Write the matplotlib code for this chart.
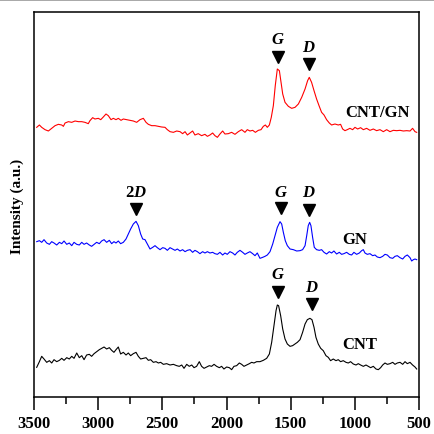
import numpy as np
import matplotlib
matplotlib.use("Agg")
import matplotlib.pyplot as plt
from matplotlib.lines import Line2D
from matplotlib.ticker import MultipleLocator

plt.rcParams["font.family"] = ["Liberation Serif", "DejaVu Serif"]
plt.rcParams["mathtext.fontset"] = "custom"
plt.rcParams["mathtext.rm"] = "Liberation Serif:bold"
plt.rcParams["mathtext.it"] = "Liberation Serif:bold:italic"

# Raman shift (cm-1) and intensity (a.u., offset stacked)
w_cntgn = [3479, 3458, 3440, 3414, 3388, 3362, 3336, 3310, 3284, 3271, 3258, 3232, 3206, 3180,
           3154, 3128, 3103, 3077, 3064, 3043, 3025, 2999, 2980, 2960, 2939, 2921, 2900, 2882,
           2861, 2843, 2822, 2804, 2778, 2752, 2726, 2700, 2674, 2648, 2627, 2609, 2583, 2557,
           2531, 2505, 2479, 2461, 2440, 2414, 2388, 2362, 2342, 2323, 2305, 2284, 2264, 2246,
           2220, 2194, 2168, 2149, 2129, 2108, 2090, 2071, 2051, 2030, 2012, 1986, 1960, 1934,
           1908, 1882, 1856, 1838, 1817, 1796, 1775, 1752, 1731, 1713, 1697, 1682, 1666, 1651,
           1635, 1620, 1604, 1588, 1575, 1562, 1544, 1518, 1492, 1466, 1440, 1414, 1388, 1368,
           1355, 1337, 1318, 1298, 1279, 1259, 1240, 1220, 1199, 1181, 1155, 1129, 1111, 1095,
           1077, 1059, 1038, 1017, 999, 978, 955, 934, 908, 882, 856, 830, 804, 778, 752, 726,
           700, 674, 648, 622, 596, 570, 550, 531, 518]
i_cntgn = [809, 816, 809, 802, 798, 806, 814, 818, 816, 812, 822, 826, 824, 828,
           826, 826, 824, 820, 829, 838, 834, 836, 832, 840, 849, 844, 832, 836,
           832, 836, 830, 834, 832, 830, 828, 824, 832, 836, 824, 818, 814, 814,
           812, 810, 809, 802, 796, 794, 798, 796, 790, 796, 786, 792, 798, 786,
           790, 784, 788, 782, 786, 792, 784, 779, 789, 798, 789, 790, 794, 788,
           796, 802, 794, 802, 798, 800, 794, 800, 802, 812, 816, 809, 816, 839,
           874, 934, 984, 979, 944, 909, 884, 872, 866, 869, 879, 899, 924, 949,
           959, 944, 919, 894, 874, 854, 846, 832, 822, 816, 819, 816, 818, 804,
           799, 802, 806, 802, 809, 804, 808, 802, 806, 800, 804, 799, 802, 796, 802, 796,
           800, 799, 800, 798, 799, 798, 806, 796, 794]

w_gn = [3479, 3458, 3440, 3422, 3401, 3380, 3362, 3344, 3323, 3302, 3284, 3266, 3245, 3225,
        3206, 3188, 3167, 3147, 3128, 3110, 3090, 3069, 3051, 3032, 3012, 2991, 2973, 2954,
        2934, 2913, 2895, 2877, 2861, 2843, 2825, 2804, 2783, 2765, 2747, 2726, 2705, 2687,
        2669, 2653, 2635, 2617, 2596, 2575, 2557, 2539, 2518, 2497, 2479, 2461, 2440, 2420,
        2401, 2383, 2362, 2342, 2323, 2305, 2284, 2264, 2246, 2227, 2207, 2186, 2168, 2149,
        2129, 2108, 2090, 2071, 2051, 2030, 2012, 1994, 1973, 1952, 1934, 1916, 1895, 1874,
        1856, 1838, 1817, 1796, 1778, 1760, 1739, 1718, 1700, 1682, 1661, 1640, 1622, 1604,
        1583, 1570, 1557, 1542, 1526, 1505, 1479, 1453, 1427, 1407, 1388, 1375, 1363, 1352,
        1342, 1329, 1316, 1298, 1277, 1259, 1240, 1220, 1199, 1181, 1163, 1142, 1121, 1103,
        1085, 1064, 1043, 1025, 1007, 986, 965, 947, 934, 921, 903, 882, 861, 843, 825, 804,
        783, 765, 747, 726, 705, 687, 669, 648, 627, 609, 591, 570, 557, 544, 531, 518]
i_gn = [466, 469, 464, 472, 462, 458, 466, 462, 456, 464, 460, 468, 458, 462,
        454, 464, 458, 456, 464, 458, 462, 456, 452, 458, 464, 460, 468, 472,
        464, 470, 460, 466, 462, 468, 460, 464, 474, 489, 504, 519, 527, 514,
        489, 474, 472, 459, 444, 449, 454, 448, 442, 448, 446, 440, 448, 444,
        440, 444, 438, 442, 436, 440, 442, 434, 440, 436, 430, 436, 432, 436,
        432, 434, 430, 428, 434, 426, 432, 428, 436, 432, 426, 434, 440, 434,
        428, 432, 436, 430, 424, 432, 416, 419, 422, 426, 436, 459, 484, 509,
        526, 519, 494, 469, 454, 444, 442, 438, 439, 442, 454, 484, 514, 524,
        514, 479, 449, 442, 440, 442, 434, 429, 436, 432, 438, 429, 434, 428,
        430, 434, 428, 426, 434, 428, 432, 439, 442, 432, 428, 430, 424, 426, 420, 418,
        422, 428, 426, 418, 416, 422, 424, 418, 414, 422, 426, 418, 408, 412, 414, 412]

w_cnt = [3479, 3458, 3440, 3422, 3401, 3380, 3362, 3344, 3323, 3302, 3284, 3266, 3245, 3225,
         3206, 3188, 3167, 3147, 3128, 3110, 3090, 3069, 3051, 3032, 3012, 2991, 2973, 2954,
         2934, 2913, 2895, 2877, 2861, 2843, 2825, 2804, 2783, 2765, 2747, 2726, 2705, 2687,
         2669, 2648, 2627, 2609, 2591, 2570, 2549, 2531, 2513, 2492, 2466, 2440, 2414, 2388,
         2368, 2349, 2331, 2310, 2290, 2271, 2253, 2233, 2212, 2194, 2175, 2155, 2134, 2116,
         2097, 2077, 2056, 2038, 2020, 1999, 1978, 1960, 1942, 1921, 1900, 1882, 1864, 1843,
         1822, 1804, 1786, 1765, 1739, 1713, 1687, 1666, 1648, 1630, 1614, 1604, 1594, 1578,
         1562, 1544, 1526, 1505, 1485, 1466, 1448, 1427, 1407, 1388, 1370, 1350, 1334, 1318,
         1303, 1285, 1266, 1246, 1225, 1207, 1189, 1168, 1147, 1129, 1111, 1090, 1069, 1051,
         1033, 1012, 991, 973, 955, 934, 913, 895, 877, 856, 835, 817, 799, 783, 765, 747,
         726, 705, 687, 669, 648, 627, 609, 591, 570, 550, 531, 518]
i_cnt = [89, 106, 122, 114, 104, 109, 102, 112, 106, 110, 116, 110, 118, 114,
         122, 116, 132, 118, 124, 112, 126, 128, 122, 130, 136, 142, 146, 150,
         144, 148, 140, 134, 142, 150, 129, 134, 126, 132, 124, 130, 134, 122,
         114, 116, 118, 110, 112, 104, 106, 102, 104, 98, 100, 96, 98, 94,
         92, 96, 86, 98, 92, 96, 88, 92, 106, 92, 86, 90, 94, 92,
         98, 92, 88, 92, 84, 90, 88, 82, 92, 94, 102, 98, 92, 96,
         100, 104, 102, 106, 106, 110, 116, 129, 164, 214, 259, 276, 274, 244,
         204, 174, 159, 152, 154, 159, 164, 172, 194, 219, 232, 236, 232, 209,
         179, 159, 146, 139, 124, 119, 109, 114, 109, 112, 106, 109, 104, 102,
         106, 99, 96, 100, 96, 92, 96, 92, 88, 92, 84, 82, 88, 96, 102, 98,
         100, 104, 98, 102, 104, 98, 106, 100, 104, 96, 90, 84]

# peak markers: (label, raman shift, marker height, label height)
marks_cntgn = [("$\\mathit{G}$", 1599, 1020, 1074), ("$\\mathit{D}$", 1357, 999, 1050)]
marks_gn = [("$\\mathrm{2}\\mathit{D}$", 2705, 564, 615), ("$\\mathit{G}$", 1575, 567, 615),
            ("$\\mathit{D}$", 1357, 561, 615)]
marks_cnt = [("$\\mathit{G}$", 1599, 315, 369), ("$\\mathit{D}$", 1334, 279, 330)]

names = ["CNT/GN", "GN", "CNT"]
name_pos = [(827, 855), (999, 474), (960, 159)]

fig = plt.figure(figsize=(4.34, 4.35), dpi=100)
ax = fig.add_axes([34 / 434, 37 / 435, 385 / 434, 385 / 435])

ax.plot(w_cntgn, i_cntgn, color="#ff0000", lw=0.8)
ax.plot(w_gn, i_gn, color="#0000ff", lw=0.8)
ax.plot(w_cnt, i_cnt, color="black", lw=0.8)

for marks in (marks_cntgn, marks_gn, marks_cnt):
    for lab, x, ym, yl in marks:
        ax.plot(x, ym, marker="v", color="black", ms=9, ls="none")
        ax.text(x, yl, lab, ha="center", va="center", fontsize=12)

for nm, (x, y) in zip(names, name_pos):
    ax.text(x, y, nm, ha="center", va="center", fontsize=12, fontweight="bold")

ax.set_xlim(3500, 500)
ax.set_ylim(0, 1155)
ax.xaxis.set_major_locator(MultipleLocator(500))
ax.xaxis.set_minor_locator(MultipleLocator(250))
ax.tick_params(axis="x", which="major", direction="out", length=9, width=1.1,
               labelsize=12, pad=4)
ax.tick_params(axis="x", which="minor", direction="out", length=5, width=1.1)
ax.tick_params(axis="y", left=False, labelleft=False)
for t in ax.get_xticklabels():
    t.set_fontweight("bold")
for s in ax.spines.values():
    s.set_linewidth(1.1)

fig.text(17 / 434, 1 - 206 / 435, "Intensity (a.u.)", rotation=90, ha="center",
         va="center", fontsize=11, fontweight="bold")
fig.add_artist(Line2D([0, 1], [0.998, 0.998], color="#999999", lw=1.2))

fig.savefig("out.png", dpi=100)
